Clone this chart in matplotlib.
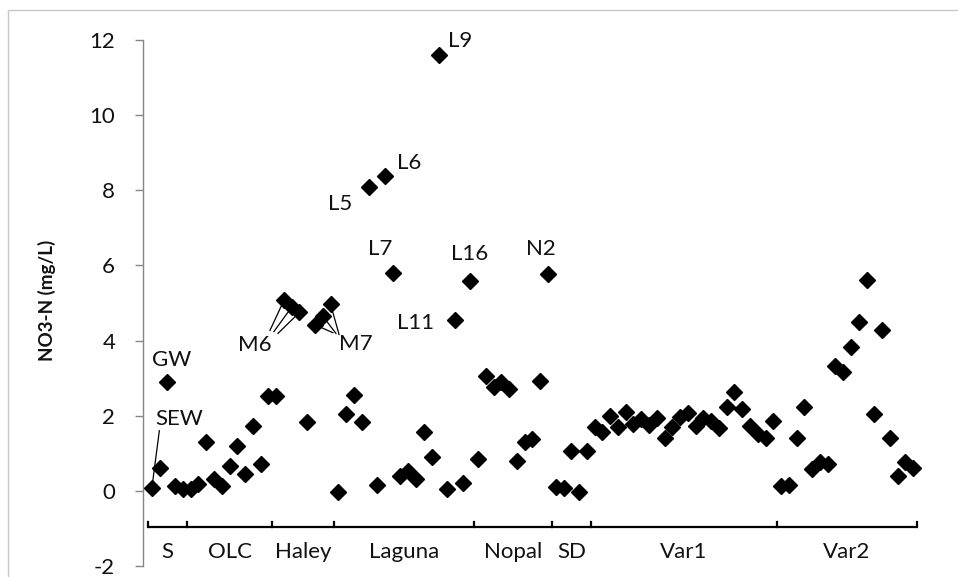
import matplotlib
matplotlib.use('Agg')
import matplotlib.pyplot as plt
from matplotlib.patches import Rectangle

plt.rcParams['font.family'] = ['Lato', 'DejaVu Sans']
plt.rcParams['axes.unicode_minus'] = False

# nitrate concentrations (mg/L) for each sampling site, in plotting order
s_vals = [0.08, 0.62, 2.89, 0.13, 0.04]
olc_vals = [0.04, 0.18, 1.29, 0.32, 0.13, 0.67, 1.20, 0.45, 1.73, 0.72, 2.53]
haley_vals = [2.53, 5.07, 4.89, 4.75, 1.82, 4.42, 4.65, 4.97]
laguna_vals = [-0.03, 2.04, 2.56, 1.82, 8.09, 0.15, 8.38, 5.80, 0.40,
               0.53, 0.31, 1.56, 0.91, 11.60, 0.06, 4.55, 0.20, 5.58]
nopal_vals = [0.86, 3.07, 2.76, 2.89, 2.71, 0.80, 1.31, 1.38, 2.93, 5.78]
sd_vals = [0.09, 0.07, 1.07, -0.04, 1.07]
var1_vals = [1.69, 1.56, 2.00, 1.69, 2.09, 1.78, 1.91, 1.76, 1.94, 1.42,
             1.69, 1.97, 2.06, 1.73, 1.94, 1.85, 1.67, 2.24, 2.62, 2.18,
             1.73, 1.51, 1.40, 1.85]
var2_vals = [0.14, 0.16, 1.42, 2.22, 0.58, 0.76, 0.71, 3.33, 3.16, 3.82,
             4.49, 5.62, 2.04, 4.27, 1.42, 0.40, 0.76, 0.62]

groups = ['S', 'OLC', 'Haley', 'Laguna', 'Nopal', 'SD', 'Var1', 'Var2']
group_vals = [s_vals, olc_vals, haley_vals, laguna_vals,
              nopal_vals, sd_vals, var1_vals, var2_vals]

# named points: (index in series, label)
point_labels = [(2, 'GW'), (28, 'L5'), (30, 'L6'), (31, 'L7'), (37, 'L9'),
                (39, 'L11'), (41, 'L16'), (51, 'N2')]
m6_idx = [17, 18, 19]
m7_idx = [21, 22, 23]

values = [v for g in group_vals for v in g]
x = list(range(len(values)))

txt = dict(fontsize=16, color='#111111')

fig = plt.figure(figsize=(9.58, 5.77), dpi=100)
fig.patches.append(Rectangle((8 / 958, -0.01), 1.0, 1 - 10 / 577 + 0.01,
                             transform=fig.transFigure, fill=False,
                             edgecolor='#c8c8c8', linewidth=1.0))

ax = fig.add_axes([143 / 958, 11 / 577, 787 / 958, 526 / 577])
ax.set_xlim(-1.143, 100.173)
ax.set_ylim(-2, 12)
ax.patch.set_alpha(0)

for side in ['top', 'right', 'bottom']:
    ax.spines[side].set_visible(False)
ax.spines['left'].set_color('#868686')
ax.spines['left'].set_linewidth(1.0)
ax.set_xticks([])
ax.set_yticks(range(-2, 13, 2))
ax.tick_params(axis='y', direction='out', length=6, width=1.0,
               color='#868686', labelsize=16, pad=14, labelcolor='#111111')

ax.plot(x, values, linestyle='none', marker='D', markersize=8,
        color='black', zorder=3)

# labels on single points
offsets = {'GW': (3.3, 16.3), 'L5': (-21.2, -12.5), 'L6': (17.3, 9.2),
           'L7': (-9.2, 16.9), 'L9': (14.8, 10.1), 'L11': (-28, -1.9),
           'L16': (-0.4, 19.3), 'N2': (-5.2, 17.5)}
for i, name in point_labels:
    ax.annotate(name, xy=(i, values[i]), xytext=offsets[name],
                textcoords='offset points', ha='center', va='center', **txt)

# SEW with a leader line
ax.annotate('SEW', xy=(0, values[0]), xytext=(19.5, 49.7),
            textcoords='offset points', ha='center', va='center', **txt)
ax.plot([0.96, 0], [1.6, values[0]], color='black', lw=0.9, zorder=2)

# M6 / M7 clusters with fanned leader lines
ax.annotate('M6', xy=(18, values[18]), xytext=(-26.5, -27.6),
            textcoords='offset points', ha='center', va='center', **txt)
for (sx, sy), i in zip([(15.2, 4.27), (15.71, 4.24), (16.23, 4.19)], m6_idx):
    ax.plot([sx, i], [sy, values[i]], color='black', lw=0.9, zorder=2)

ax.annotate('M7', xy=(22, values[22]), xytext=(23.9, -20.4),
            textcoords='offset points', ha='center', va='center', **txt)
for (sx, sy), i in zip([(23.3, 4.21), (23.7, 4.19), (24.1, 4.16)], m7_idx):
    ax.plot([sx, i], [sy, values[i]], color='black', lw=0.9, zorder=2)

# group brackets under the points
bracket_y = -0.96
edges = [-0.5]
for g in group_vals:
    edges.append(edges[-1] + len(g))
ax.plot([edges[0], edges[-1]], [bracket_y, bracket_y], color='black',
        lw=1.6, solid_capstyle='butt', zorder=2)
for e in edges:
    ax.plot([e, e], [bracket_y, bracket_y + 0.14], color='black', lw=1.6,
            zorder=2)
for name, a, b in zip(groups, edges[:-1], edges[1:]):
    ax.text((a + b) / 2, -1.63, name, ha='center', va='center', **txt)

fig.text(47 / 958, 1 - 300 / 577, 'NO3-N (mg/L)', rotation=90,
         ha='center', va='center', fontsize=13.5, fontweight='bold',
         color='#111111')

fig.savefig('out.png', dpi=100)
